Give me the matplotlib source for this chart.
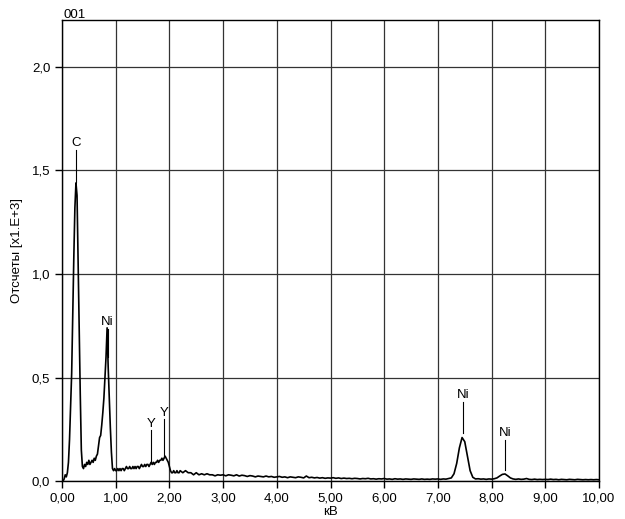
import numpy as np
import matplotlib
matplotlib.use("Agg")
import matplotlib.pyplot as plt
from matplotlib.ticker import FuncFormatter

plt.rcParams['font.family'] = ['Liberation Sans', 'DejaVu Sans']

# spectrum, low energy part: 0.00 .. 2.20 keV, step 0.02
energy_lo = np.linspace(0.0, 2.2, 111)
counts_lo = [
    0.00, 0.00, 0.01, 0.03, 0.02, 0.04, 0.09, 0.20, 0.36, 0.52,
    0.80, 1.08, 1.32, 1.44, 1.38, 1.05, 0.70, 0.42, 0.15, 0.07,
    0.06, 0.08, 0.07, 0.09, 0.08, 0.10, 0.08, 0.09, 0.10, 0.09,
    0.11, 0.10, 0.12, 0.13, 0.17, 0.21, 0.22, 0.27, 0.33, 0.40,
    0.50, 0.60, 0.74, 0.55, 0.40, 0.26, 0.14, 0.06, 0.05, 0.06,
    0.05, 0.05, 0.06, 0.05, 0.06, 0.05, 0.06, 0.06, 0.05, 0.06,
    0.07, 0.06, 0.06, 0.07, 0.06, 0.06, 0.07, 0.06, 0.07, 0.06,
    0.07, 0.07, 0.06, 0.07, 0.08, 0.07, 0.07, 0.08, 0.07, 0.08,
    0.08, 0.07, 0.08, 0.09, 0.08, 0.09, 0.08, 0.09, 0.09, 0.10,
    0.09, 0.10, 0.10, 0.11, 0.10, 0.11, 0.12, 0.11, 0.10, 0.09,
    0.07, 0.05, 0.04, 0.04, 0.05, 0.04, 0.04, 0.05, 0.04, 0.04,
    0.05,
]

# spectrum, high energy part: 2.25 .. 10.00 keV, step 0.05
energy_hi = np.linspace(2.25, 10.0, 156)
counts_hi = [
    0.040, 0.050, 0.040, 0.040, 0.030, 0.040, 0.030, 0.035, 0.030, 0.035,
    0.030, 0.030, 0.025, 0.030, 0.028, 0.030, 0.025, 0.030, 0.028, 0.025,
    0.030, 0.024, 0.028, 0.026, 0.022, 0.026, 0.024, 0.020, 0.024, 0.022,
    0.020, 0.024, 0.020, 0.022, 0.018, 0.020, 0.022, 0.018, 0.020, 0.016,
    0.020, 0.018, 0.016, 0.020, 0.018, 0.015, 0.024, 0.016, 0.018, 0.015,
    0.017, 0.014, 0.016, 0.013, 0.015, 0.014, 0.016, 0.013, 0.015, 0.012,
    0.014, 0.012, 0.013, 0.011, 0.013, 0.012, 0.010, 0.012, 0.011, 0.013,
    0.010, 0.011, 0.009, 0.011, 0.010, 0.012, 0.009, 0.010, 0.008, 0.011,
    0.009, 0.010, 0.008, 0.010, 0.009, 0.008, 0.010, 0.009, 0.008, 0.010,
    0.008, 0.009, 0.008, 0.010, 0.009, 0.010, 0.008, 0.010, 0.009, 0.012,
    0.015, 0.035, 0.085, 0.160, 0.210, 0.190, 0.120, 0.050, 0.018, 0.010,
    0.011, 0.009, 0.010, 0.008, 0.010, 0.009, 0.011, 0.015, 0.024, 0.032,
    0.034, 0.025, 0.015, 0.010, 0.008, 0.010, 0.008, 0.009, 0.012, 0.008,
    0.007, 0.009, 0.007, 0.008, 0.007, 0.008, 0.007, 0.009, 0.007, 0.008,
    0.006, 0.008, 0.007, 0.006, 0.008, 0.007, 0.006, 0.008, 0.007, 0.006,
    0.007, 0.006, 0.007, 0.006, 0.007, 0.006,
]

energy = np.concatenate([energy_lo, energy_hi])
counts = np.concatenate([counts_lo, counts_hi])

# peak labels: name, x, label y, line top, line bottom
peak_names = ['C', 'Ni', 'Y', 'Y', 'Ni', 'Ni']
peak_x = [0.27, 0.85, 1.66, 1.905, 7.47, 8.25]
label_y = [1.635, 0.768, 0.275, 0.327, 0.415, 0.233]
line_top = [1.60, 0.735, 0.246, 0.298, 0.383, 0.198]
line_bot = [1.446, 0.60, 0.093, 0.117, 0.232, 0.053]

fig = plt.figure(figsize=(6.25, 5.19), dpi=100)
ax = fig.add_axes([0.0992, 0.0732, 0.8592, 0.8883])

ax.plot(energy, counts, color='black', lw=1.2)

for n, x, ly, lt, lb in zip(peak_names, peak_x, label_y, line_top, line_bot):
    ax.plot([x, x], [lb, lt], color='black', lw=0.8)
    ax.text(x, ly, n, ha='center', va='center', fontsize=9.5)

ax.set_xlim(0, 10)
ax.set_ylim(0, 2.227)
ax.set_xticks(np.arange(0, 10.01, 1.0))
ax.set_yticks([0, 0.5, 1.0, 1.5, 2.0])
ax.xaxis.set_major_formatter(FuncFormatter(lambda v, p: f'{v:.2f}'.replace('.', ',')))
ax.yaxis.set_major_formatter(FuncFormatter(lambda v, p: f'{v:.1f}'.replace('.', ',')))
ax.tick_params(direction='out', length=5, width=1, labelsize=9.5, colors='black')
ax.grid(True, color='#333333', lw=0.9)
ax.set_axisbelow(True)
for s in ax.spines.values():
    s.set_color('black')
    s.set_linewidth(1.0)

ax.set_xlabel('кВ', fontsize=9.5, labelpad=1)
ax.set_ylabel('Отсчеты [x1.E+3]', fontsize=9.5, labelpad=6)
fig.text(0.102, 0.972, '001', fontsize=9.5, ha='left', va='center')

fig.savefig('out.png', dpi=100)
